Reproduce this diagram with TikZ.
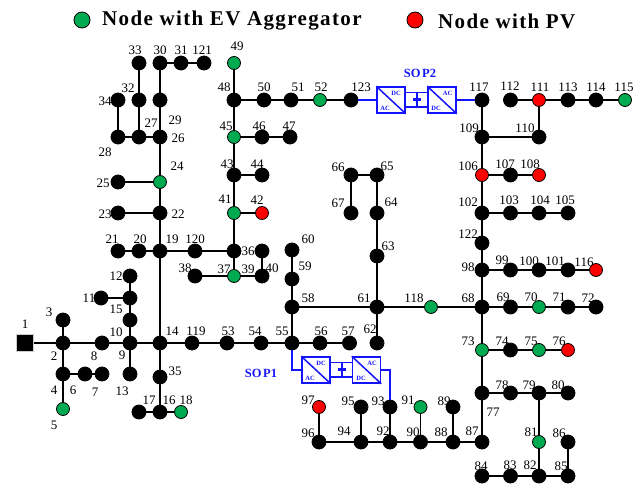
\documentclass[tikz,border=0pt]{standalone}
\usepackage{fontspec}
\setmainfont{Liberation Serif}
\newfontfamily\legendfont[LetterSpace=6.5]{Liberation Serif}
\definecolor{evgreen}{RGB}{0,170,80}
\definecolor{sopblue}{RGB}{20,20,250}
\tikzset{
  bus/.style={circle, draw=black, fill=black, line width=0.8pt, inner sep=0pt, minimum size=14pt},
  busev/.style={bus, fill=evgreen, minimum size=13pt},
  buspv/.style={bus, fill=red, minimum size=13pt},
  num/.style={inner sep=0pt, font=\fontsize{13}{13}\selectfont, text=black},
  line/.style={draw=black, line width=1.4pt},
  link/.style={draw=sopblue, line width=1.5pt},
  conv/.style={rectangle, draw=sopblue, line width=1.5pt, minimum width=28pt, minimum height=26pt, inner sep=0pt},
  acdc/.style={inner sep=0pt, text=sopblue, font=\fontsize{6.5}{6.5}\selectfont\bfseries},
  soplabel/.style={inner sep=0pt, text=sopblue, font=\fontsize{12.5}{12.5}\selectfont\bfseries},
  legend/.style={inner sep=0pt, anchor=west, font=\fontsize{21}{21}\selectfont\legendfont\bfseries},
  source/.style={rectangle, draw=black!20, fill=black, line width=1.2pt, minimum size=17pt, inner sep=0pt},
}
\begin{document}
\begin{tikzpicture}[x=1pt, y=-1pt]
\useasboundingbox (0,0) rectangle (633,485);

%Legend
\node[busev, minimum size=16pt] (legev) at (82,20) {};
\node[legend] (legevtext) at (102,21) {Node with EV Aggregator};
\node[buspv, minimum size=16pt] (legpv) at (415,20) {};
\node[legend] (legpvtext) at (438,21) {Node with PV};

%Main feeder
\node[source] (n1) at (25,343) {}; \node[num] (l1) at (25,324) {1};
\node[bus] (n2) at (63,343) {}; \node[num] (l2) at (54,356) {2};
\node[bus] (n3) at (63,320) {}; \node[num] (l3) at (49,312) {3};
\node[bus] (n4) at (63,374) {}; \node[num] (l4) at (54,390) {4};
\node[busev] (n5) at (63,409) {}; \node[num] (l5) at (54,425) {5};
\node[bus] (n6) at (85,374) {}; \node[num] (l6) at (73,390) {6};
\node[bus] (n7) at (102,374) {}; \node[num] (l7) at (95,392) {7};
\node[bus] (n8) at (102,343) {}; \node[num] (l8) at (94,356) {8};
\node[bus] (n9) at (130,343) {}; \node[num] (l9) at (122,355) {9};
\node[bus] (n10) at (130,320) {}; \node[num] (l10) at (116,332) {10};
\node[bus] (n11) at (101,298) {}; \node[num] (l11) at (89,298) {11};
\node[bus] (n12) at (130,276) {}; \node[num] (l12) at (116,276) {12};
\node[bus] (n13) at (130,374) {}; \node[num] (l13) at (122,391) {13};
\node[bus] (n14) at (160,343) {}; \node[num] (l14) at (172,331) {14};
\node[bus] (n15) at (130,298) {}; \node[num] (l15) at (116,309) {15};
\node[bus] (n16) at (160,412) {}; \node[num] (l16) at (169,400) {16};
\node[bus] (n17) at (139,412) {}; \node[num] (l17) at (149,400) {17};
\node[busev] (n18) at (181,412) {}; \node[num] (l18) at (186,400) {18};
\node[bus] (n35) at (160,377) {}; \node[num] (l35) at (175,371) {35};
\node[bus] (n119) at (192,343) {}; \node[num] (l119) at (196,331) {119};
\node[bus] (n53) at (227,343) {}; \node[num] (l53) at (228,331) {53};
\node[bus] (n54) at (261,343) {}; \node[num] (l54) at (255,331) {54};
\node[bus] (n55) at (292,343) {}; \node[num] (l55) at (282,331) {55};
\node[bus] (n56) at (320,343) {}; \node[num] (l56) at (321,331) {56};
\node[bus] (n57) at (349.5,343) {}; \node[num] (l57) at (348,331) {57};

%Upper left branch
\node[bus] (n19) at (160,251) {}; \node[num] (l19) at (172,239) {19};
\node[bus] (n20) at (139,251) {}; \node[num] (l20) at (140,239) {20};
\node[bus] (n21) at (118,251) {}; \node[num] (l21) at (112,239) {21};
\node[bus] (n22) at (160,213) {}; \node[num] (l22) at (178,214) {22};
\node[bus] (n23) at (118,213) {}; \node[num] (l23) at (105,214) {23};
\node[busev] (n24) at (160,182) {}; \node[num] (l24) at (177,166) {24};
\node[bus] (n25) at (118,182) {}; \node[num] (l25) at (103,183) {25};
\node[bus] (n26) at (160,137) {}; \node[num] (l26) at (178,138) {26};
\node[bus] (n27) at (139,137) {}; \node[num] (l27) at (151,123) {27};
\node[bus] (n28) at (118,137) {}; \node[num] (l28) at (105,152) {28};
\node[bus] (n29) at (160,100) {}; \node[num] (l29) at (175,120) {29};
\node[bus] (n30) at (160,63) {}; \node[num] (l30) at (160,50) {30};
\node[bus] (n31) at (181,63) {}; \node[num] (l31) at (181,50) {31};
\node[bus] (n121) at (204,63) {}; \node[num] (l121) at (202,50) {121};
\node[bus] (n32) at (139,100) {}; \node[num] (l32) at (128,88) {32};
\node[bus] (n33) at (139,63) {}; \node[num] (l33) at (135,50) {33};
\node[bus] (n34) at (118,100) {}; \node[num] (l34) at (105,101) {34};
\node[bus] (n120) at (195,251) {}; \node[num] (l120) at (195,239) {120};
\node[bus] (n36) at (234,251) {}; \node[num] (l36) at (248,251) {36};
\node[busev] (n37) at (234,276) {}; \node[num] (l37) at (224,269) {37};
\node[bus] (n38) at (195,276) {}; \node[num] (l38) at (185,268) {38};
\node[bus] (n39) at (262,276) {}; \node[num] (l39) at (248,269) {39};
\node[bus] (n40) at (262,251) {}; \node[num] (l40) at (272,268) {40};
\node[busev] (n41) at (234,213) {}; \node[num] (l41) at (225,199) {41};
\node[buspv] (n42) at (262,213) {}; \node[num] (l42) at (257,200) {42};
\node[bus] (n43) at (234,175) {}; \node[num] (l43) at (227,164) {43};
\node[bus] (n44) at (262,175) {}; \node[num] (l44) at (257,164) {44};
\node[busev] (n45) at (234,137) {}; \node[num] (l45) at (226,126) {45};
\node[bus] (n46) at (262,137) {}; \node[num] (l46) at (259,126) {46};
\node[bus] (n47) at (290,137) {}; \node[num] (l47) at (289,126) {47};
\node[bus] (n48) at (234,100) {}; \node[num] (l48) at (224,87) {48};
\node[busev] (n49) at (234,63) {}; \node[num] (l49) at (237,46) {49};
\node[bus] (n50) at (264,100) {}; \node[num] (l50) at (264,87) {50};
\node[bus] (n51) at (291,100) {}; \node[num] (l51) at (298,87) {51};
\node[busev] (n52) at (320,100) {}; \node[num] (l52) at (321,87) {52};
\node[bus] (n123) at (351,100) {}; \node[num] (l123) at (361,87) {123};

%Middle branch
\node[bus] (n58) at (292,307) {}; \node[num] (l58) at (308,298) {58};
\node[bus] (n59) at (292,279) {}; \node[num] (l59) at (305,266) {59};
\node[bus] (n60) at (292,250) {}; \node[num] (l60) at (308,239) {60};
\node[bus] (n61) at (377,307) {}; \node[num] (l61) at (364,298) {61};
\node[bus] (n62) at (377,343) {}; \node[num] (l62) at (370,329) {62};
\node[bus] (n63) at (377,256) {}; \node[num] (l63) at (388,246) {63};
\node[bus] (n64) at (377,213) {}; \node[num] (l64) at (391,202) {64};
\node[bus] (n65) at (377,175) {}; \node[num] (l65) at (387,166) {65};
\node[bus] (n66) at (351,175) {}; \node[num] (l66) at (338,167) {66};
\node[bus] (n67) at (351,213) {}; \node[num] (l67) at (338,203) {67};
\node[busev] (n118) at (431,307) {}; \node[num] (l118) at (414,298) {118};

%Right branch
\node[bus] (n68) at (482,307) {}; \node[num] (l68) at (468,298) {68};
\node[bus] (n69) at (510.5,307) {}; \node[num] (l69) at (503,297) {69};
\node[busev] (n70) at (539,307) {}; \node[num] (l70) at (531,297) {70};
\node[bus] (n71) at (568,307) {}; \node[num] (l71) at (559,297) {71};
\node[bus] (n72) at (596,307) {}; \node[num] (l72) at (588,298) {72};
\node[busev] (n73) at (482,350) {}; \node[num] (l73) at (468,341) {73};
\node[bus] (n74) at (510.5,350) {}; \node[num] (l74) at (502,341) {74};
\node[busev] (n75) at (539,350) {}; \node[num] (l75) at (531,341) {75};
\node[buspv] (n76) at (568,350) {}; \node[num] (l76) at (559,341) {76};
\node[bus] (n77) at (482,393) {}; \node[num] (l77) at (493,412) {77};
\node[bus] (n78) at (510.5,393) {}; \node[num] (l78) at (502,385) {78};
\node[bus] (n79) at (539,393) {}; \node[num] (l79) at (529,385) {79};
\node[bus] (n80) at (568,393) {}; \node[num] (l80) at (558,385) {80};
\node[busev] (n81) at (539,442) {}; \node[num] (l81) at (531,432) {81};
\node[bus] (n82) at (539,476) {}; \node[num] (l82) at (530,465) {82};
\node[bus] (n83) at (510.5,476) {}; \node[num] (l83) at (510,465) {83};
\node[bus] (n84) at (482,476) {}; \node[num] (l84) at (481,466) {84};
\node[bus] (n85) at (568,476) {}; \node[num] (l85) at (561,466) {85};
\node[bus] (n86) at (568,442) {}; \node[num] (l86) at (559,433) {86};
\node[bus] (n87) at (482,442) {}; \node[num] (l87) at (472,431) {87};
\node[bus] (n88) at (453,442) {}; \node[num] (l88) at (441,432) {88};
\node[bus] (n89) at (453,407) {}; \node[num] (l89) at (444,401) {89};
\node[bus] (n90) at (420.5,442) {}; \node[num] (l90) at (413,432) {90};
\node[busev] (n91) at (420.5,407) {}; \node[num] (l91) at (408,400) {91};
\node[bus] (n92) at (390,442) {}; \node[num] (l92) at (383,431) {92};
\node[bus] (n93) at (390,407) {}; \node[num] (l93) at (378,401) {93};
\node[bus] (n94) at (361,442) {}; \node[num] (l94) at (344,431) {94};
\node[bus] (n95) at (361,407) {}; \node[num] (l95) at (348,401) {95};
\node[bus] (n96) at (319,442) {}; \node[num] (l96) at (308,433) {96};
\node[buspv] (n97) at (319,407) {}; \node[num] (l97) at (308,400) {97};
\node[bus] (n98) at (482,270) {}; \node[num] (l98) at (468,267) {98};
\node[bus] (n99) at (510.5,270) {}; \node[num] (l99) at (502,260) {99};
\node[bus] (n100) at (539,270) {}; \node[num] (l100) at (529,261) {100};
\node[bus] (n101) at (568,270) {}; \node[num] (l101) at (555,261) {101};
\node[buspv] (n116) at (596,270) {}; \node[num] (l116) at (584,262) {116};
\node[bus] (n122) at (482,243) {}; \node[num] (l122) at (468,234) {122};
\node[bus] (n102) at (482,213) {}; \node[num] (l102) at (468,202) {102};
\node[bus] (n103) at (510.5,213) {}; \node[num] (l103) at (509,200) {103};
\node[bus] (n104) at (539,213) {}; \node[num] (l104) at (540,200) {104};
\node[bus] (n105) at (568,213) {}; \node[num] (l105) at (565,200) {105};
\node[buspv] (n106) at (482,175) {}; \node[num] (l106) at (468,166) {106};
\node[bus] (n107) at (510.5,175) {}; \node[num] (l107) at (505,164) {107};
\node[buspv] (n108) at (539,175) {}; \node[num] (l108) at (530,164) {108};
\node[bus] (n109) at (482,137) {}; \node[num] (l109) at (469,128) {109};
\node[bus] (n110) at (539,137) {}; \node[num] (l110) at (525,128) {110};
\node[bus] (n117) at (482,100) {}; \node[num] (l117) at (479,87) {117};
\node[bus] (n112) at (510.5,100) {}; \node[num] (l112) at (510,86) {112};
\node[buspv] (n111) at (539,100) {}; \node[num] (l111) at (540,87) {111};
\node[bus] (n113) at (568,100) {}; \node[num] (l113) at (568,87) {113};
\node[bus] (n114) at (596,100) {}; \node[num] (l114) at (596,87) {114};
\node[busev] (n115) at (625,100) {}; \node[num] (l115) at (624,87) {115};

%Lines
\draw[line] (n1) -- (n2) -- (n8) -- (n9) -- (n14) -- (n119) -- (n53) -- (n54) -- (n55) -- (n56) -- (n57);
\draw[line] (n3) -- (n2) -- (n4) -- (n5);
\draw[line] (n4) -- (n6) -- (n7);
\draw[line] (n13) -- (n9) -- (n10) -- (n15) -- (n12);
\draw[line] (n11) -- (n15);
\draw[line] (n14) -- (n35) -- (n16);
\draw[line] (n17) -- (n16) -- (n18);
\draw[line] (n14) -- (n19) -- (n22) -- (n24) -- (n26) -- (n29) -- (n30) -- (n31) -- (n121);
\draw[line] (n21) -- (n20) -- (n19) -- (n120) -- (n36) -- (n37);
\draw[line] (n23) -- (n22);
\draw[line] (n25) -- (n24);
\draw[line] (n26) -- (n27) -- (n28) -- (n34);
\draw[line] (n27) -- (n32) -- (n33);
\draw[line] (n38) -- (n37) -- (n39) -- (n40);
\draw[line] (n36) -- (n41) -- (n43) -- (n45) -- (n48) -- (n49);
\draw[line] (n41) -- (n42);
\draw[line] (n43) -- (n44);
\draw[line] (n45) -- (n46) -- (n47);
\draw[line] (n48) -- (n50) -- (n51) -- (n52) -- (n123);
\draw[line] (n60) -- (n59) -- (n58) -- (n55);
\draw[line] (n58) -- (n61) -- (n118) -- (n68);
\draw[line] (n62) -- (n61) -- (n63) -- (n64) -- (n65) -- (n66) -- (n67);
\draw[line] (n117) -- (n109) -- (n106) -- (n102) -- (n122) -- (n98) -- (n68) -- (n73) -- (n77) -- (n87);
\draw[line] (n109) -- (n110) -- (n111);
\draw[line] (n112) -- (n111) -- (n113) -- (n114) -- (n115);
\draw[line] (n106) -- (n107) -- (n108);
\draw[line] (n102) -- (n103) -- (n104) -- (n105);
\draw[line] (n98) -- (n99) -- (n100) -- (n101) -- (n116);
\draw[line] (n68) -- (n69) -- (n70) -- (n71) -- (n72);
\draw[line] (n73) -- (n74) -- (n75) -- (n76);
\draw[line] (n77) -- (n78) -- (n79) -- (n80);
\draw[line] (n79) -- (n81) -- (n82);
\draw[line] (n84) -- (n83) -- (n82) -- (n85) -- (n86);
\draw[line] (n87) -- (n88) -- (n90) -- (n92) -- (n94) -- (n96) -- (n97);
\draw[line] (n88) -- (n89);
\draw[line] (n90) -- (n91);
\draw[line] (n92) -- (n93);
\draw[line] (n94) -- (n95);

%SOP1
\node[soplabel] (sop1) at (261,373) {SO\kern1.5pt P1};
\node[conv] (sop1a) at (316,370) {};
\node[conv] (sop1b) at (366.5,370) {};
\node[acdc] (sop1adc) at (321,363) {DC};
\node[acdc] (sop1aac) at (310,378) {AC};
\node[acdc] (sop1bac) at (372,363) {AC};
\node[acdc] (sop1bdc) at (361,378) {DC};
\node[fill=sopblue, inner sep=0pt, minimum width=8pt, minimum height=3pt] (cap1) at (342,369.5) {};
\coordinate (cap1t) at (342,362.5);
\coordinate (cap1b) at (342,377);
\coordinate (sop1l) at (292,370);
\coordinate (sop1r) at (390,370);
\draw[link] (sop1a.north west) -- (sop1a.south east);
\draw[link] (sop1b.north west) -- (sop1b.south east);
\draw[link] ([yshift=7.5pt]sop1a.east) -- ([yshift=7.5pt]sop1b.west);
\draw[link] ([yshift=-7pt]sop1a.east) -- ([yshift=-7pt]sop1b.west);
\draw[link] (cap1t) -- (cap1b);
\draw[link] (n55) -- (sop1l) -- (sop1a);
\draw[link] (sop1b) -- (sop1r) -- (n93);

%SOP2
\node[soplabel] (sop2) at (420,73) {SO\kern1.5pt P2};
\node[conv] (sop2a) at (391,100) {};
\node[conv] (sop2b) at (442,100) {};
\node[acdc] (sop2adc) at (396,93) {DC};
\node[acdc] (sop2aac) at (385,108) {AC};
\node[acdc] (sop2bac) at (447.5,93) {AC};
\node[acdc] (sop2bdc) at (436,108) {DC};
\node[fill=sopblue, inner sep=0pt, minimum width=8pt, minimum height=3pt] (cap2) at (417,99.5) {};
\coordinate (cap2t) at (417,92.5);
\coordinate (cap2b) at (417,107);
\draw[link] (sop2a.north west) -- (sop2a.south east);
\draw[link] (sop2b.north west) -- (sop2b.south east);
\draw[link] ([yshift=7.5pt]sop2a.east) -- ([yshift=7.5pt]sop2b.west);
\draw[link] ([yshift=-7pt]sop2a.east) -- ([yshift=-7pt]sop2b.west);
\draw[link] (cap2t) -- (cap2b);
\draw[link] (n123) -- (sop2a);
\draw[link] (sop2b) -- (n117);

\end{tikzpicture}
\end{document}
